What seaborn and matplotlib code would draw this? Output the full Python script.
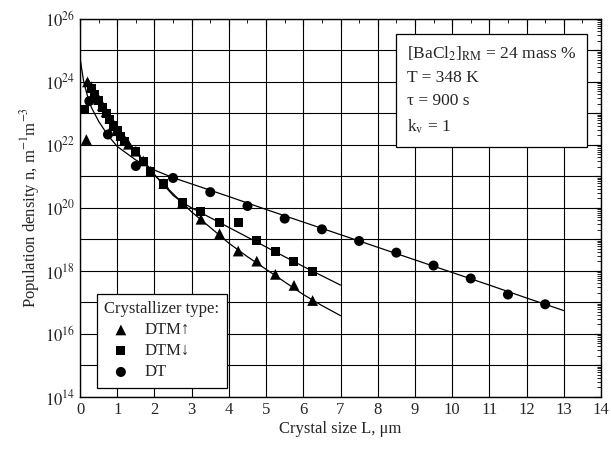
import numpy as np
import pandas as pd
import matplotlib
matplotlib.use("Agg")
import matplotlib.pyplot as plt
import seaborn as sns
from matplotlib.ticker import MultipleLocator, LogLocator, NullFormatter, FixedLocator

sns.set_style("white")
plt.rcParams['font.family'] = ['Liberation Serif', 'DejaVu Serif']
plt.rcParams['mathtext.fontset'] = 'stix'

# measured points, population density given as log10(n)
tri_L = [0.2, 0.3, 0.4, 0.5, 0.6, 0.7, 0.8, 0.9, 1.0, 1.1, 1.2, 1.3, 1.5, 1.7, 1.9,
         2.25, 2.75, 3.25, 3.75, 4.25, 4.75, 5.25, 5.75, 6.25, 0.17]
tri_logn = [24.0, 23.85, 23.65, 23.45, 23.25, 23.05, 22.85, 22.65, 22.45, 22.3, 22.15, 22.02,
            21.8, 21.49, 21.17, 20.77, 20.15, 19.64, 19.18, 18.63, 18.31, 17.89, 17.54, 17.06, 22.17]

sq_L = [0.12, 0.3, 0.4, 0.5, 0.6, 0.7, 0.8, 0.9, 1.0, 1.1, 1.2, 1.5, 1.7, 1.9,
        2.25, 2.75, 3.25, 3.75, 4.25, 4.75, 5.25, 5.75, 6.25]
sq_logn = [23.13, 23.8, 23.6, 23.4, 23.2, 23.0, 22.8, 22.6, 22.45, 22.28, 22.12, 21.78, 21.47, 21.15,
           20.77, 20.16, 19.87, 19.55, 19.55, 18.98, 18.61, 18.31, 17.97]

circ_L = [0.25, 0.75, 1.5, 2.5, 3.5, 4.5, 5.5, 6.5, 7.5, 8.5, 9.5, 10.5, 11.5, 12.5]
circ_logn = [23.39, 22.33, 21.33, 20.95, 20.5, 20.06, 19.66, 19.32, 18.95, 18.58, 18.17,
             17.76, 17.25, 16.94]

# fitted curves
fit_tri_L = [0.2, 0.5, 1.0, 1.5, 2.0, 2.5, 3.0, 3.5, 4.0, 4.5, 5.0, 5.5, 6.0, 6.5, 7.0]
fit_tri_logn = [24.1, 23.5, 22.55, 21.78, 21.05, 20.45, 19.87, 19.38, 18.88, 18.45, 18.05,
                17.65, 17.25, 16.9, 16.58]

fit_sq_L = [0.2, 0.5, 1.0, 1.5, 2.0, 2.5, 2.75, 3.0, 4.0, 5.0, 6.0, 7.0]
fit_sq_logn = [24.1, 23.5, 22.55, 21.78, 21.05, 20.4, 20.17, 20.0, 19.38, 18.76, 18.14, 17.55]

fit_dt_L = [0.0, 0.1, 0.2, 0.3, 0.5, 0.75, 1.0, 1.5, 2.0, 2.5, 3.0, 4.0, 5.0, 6.0, 7.0,
            8.0, 9.0, 10.0, 11.0, 12.0, 13.0]
fit_dt_logn = [24.75, 24.0, 23.55, 23.2, 22.75, 22.3, 21.95, 21.52, 21.2, 20.96, 20.76,
               20.36, 19.95, 19.55, 19.15, 18.75, 18.35, 17.95, 17.55, 17.14, 16.74]

fig = plt.figure(figsize=(6.11, 4.5), dpi=100)
ax = fig.add_axes([0.131, 0.118, 0.8526, 0.840])

for L, logn in [(fit_tri_L, fit_tri_logn), (fit_sq_L, fit_sq_logn), (fit_dt_L, fit_dt_logn)]:
    sns.lineplot(x=L, y=10.0 ** np.array(logn), ax=ax, color='black', lw=0.9,
                 sort=False, estimator=None)

sns.scatterplot(x=tri_L, y=10.0 ** np.array(tri_logn), marker='^', s=60, color='black',
                edgecolor='none', ax=ax, label='DTM\u2191', zorder=3)
sns.scatterplot(x=sq_L, y=10.0 ** np.array(sq_logn), marker='s', s=42, color='black',
                edgecolor='none', ax=ax, label='DTM\u2193', zorder=3)
sns.scatterplot(x=circ_L, y=10.0 ** np.array(circ_logn), marker='o', s=52, color='black',
                edgecolor='none', ax=ax, label='DT', zorder=3)

ax.set_yscale('log')
ax.set_xlim(0, 14)
ax.set_ylim(1e14, 1e26)

ax.xaxis.set_major_locator(MultipleLocator(1))
ax.xaxis.set_minor_locator(MultipleLocator(0.5))
ax.yaxis.set_major_locator(FixedLocator([10.0 ** k for k in range(14, 27)]))
ax.yaxis.set_minor_locator(LogLocator(base=10, subs=np.arange(2, 10), numticks=100))
ax.yaxis.set_minor_formatter(NullFormatter())
ax.set_yticklabels([r'$10^{%d}$' % k if k % 2 == 0 else '' for k in range(14, 27)])

ax.grid(True, which='major', color='black', lw=0.8)
ax.tick_params(which='both', direction='in', top=True, right=True, labelsize=12, color='black')
ax.tick_params(which='major', length=5, width=0.8)
ax.tick_params(which='minor', length=3, width=0.6)
for sp in ax.spines.values():
    sp.set_color('black')
    sp.set_linewidth(1.0)

ax.set_xlabel('Crystal size L, \u03bcm', fontsize=12, labelpad=2)
ax.set_ylabel(r'Population density n, m$^{-1}$m$^{-3}$', fontsize=12, labelpad=2)

leg = ax.legend(loc='lower left', bbox_to_anchor=(0.032, 0.024), borderaxespad=0,
                title='Crystallizer type:',
                fontsize=12, title_fontsize=12, frameon=True, fancybox=False,
                edgecolor='black', framealpha=1, handletextpad=0.4, borderpad=0.45,
                labelspacing=0.3)
leg._legend_box.align = 'left'
leg.get_frame().set_linewidth(0.9)

info = ('[BaCl$_2$]$_{\\rm RM}$ = 24 mass %\n'
        'T = 348 K\n'
        '\u03c4 = 900 s\n'
        'k$_{\\rm v}$ = 1')
ax.text(0.627, 0.932, info, transform=ax.transAxes, fontsize=12.5, va='top', ha='left',
        linespacing=1.6,
        bbox=dict(boxstyle='square,pad=0.6', fc='white', ec='black', lw=0.9))

fig.savefig('out.png', dpi=100)
